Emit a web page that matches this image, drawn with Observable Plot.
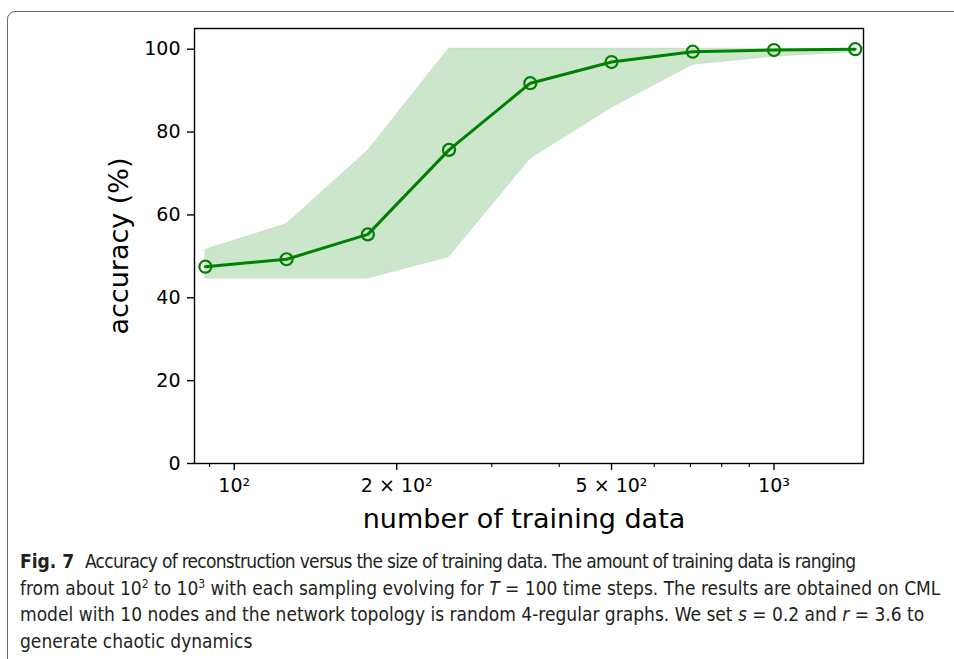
<!DOCTYPE html>
<html>
<head>
<meta charset="utf-8">
<script src="https://cdn.jsdelivr.net/npm/d3@7"></script>
<script src="https://cdn.jsdelivr.net/npm/@observablehq/plot@0.6"></script>
<style>
  html, body { margin: 0; padding: 0; background: white; }
  body { width: 954px; height: 659px; overflow: hidden; position: relative; }
  #frame { position: absolute; left: 7px; top: 11px; width: 1000px; height: 700px;
           border: 1.5px solid #6b6b6b; border-radius: 8px; pointer-events: none; z-index: 3; }
  #chart { position: absolute; left: 0; top: 0; }
  #cap { position: absolute; left: 20px; top: 548px; white-space: nowrap;
         font-family: "Liberation Sans Narrow", "DejaVu Sans Condensed", "Open Sans", sans-serif;
         font-size: 19px; line-height: 26.5px; color: #231f20; }
  #cap sup { font-size: 12px; line-height: 0; vertical-align: 7px; }
  #cap .l1 { letter-spacing: -0.72px; }
</style>
</head>
<body>
<div id="frame"></div>
<div id="chart"></div>
<div id="cap"><b>Fig. 7</b>&nbsp; <span class="l1">Accuracy of reconstruction versus the size of training data. The amount of training data is ranging</span><br>from about 10<sup>2</sup> to 10<sup>3</sup> with each sampling evolving for <i>T</i> = 100 time steps. The results are obtained on CML<br>model with 10 nodes and the network topology is random 4-regular graphs. We set <i>s</i> = 0.2 and <i>r</i> = 3.6 to<br>generate chaotic dynamics</div>
<script>
// ---- data ----
const trainingSize = [88.4, 125, 176.8, 250, 353.6, 500, 707.1, 1000, 1414.2];
const accuracy     = [47.5, 49.3, 55.3, 75.7, 91.8, 96.9, 99.4, 99.8, 100.0];
const upperBound   = [51.6, 57.8, 75.5, 100.2, 100.2, 100.2, 100.2, 100.1, 100.1];
const lowerBound   = [44.6, 44.6, 44.6, 49.8, 73.5, 85.8, 96.2, 98.2, 99.2];
const yTickValues  = [0, 20, 40, 60, 80, 100];
const xTickValues  = [100, 200, 500, 1000];
const xTickLabels  = ["10²", "2 × 10²", "5 × 10²", "10³"];
const xMinorTicks  = [90, 300, 400, 600, 700, 800, 900];
const xLabel = "number of training data";
const yLabel = "accuracy (%)";

const rows = trainingSize.map((x, i) => ({x, acc: accuracy[i], lo: lowerBound[i], hi: upperBound[i]}));

const chart = Plot.plot({
  width: 954,
  height: 545,
  marginLeft: 194,
  marginRight: 91,
  marginTop: 28,
  marginBottom: 82,
  style: {fontFamily: "DejaVu Sans", fontSize: "19px", color: "black", background: "transparent"},
  x: {type: "log", domain: [84.4, 1465], axis: null},
  y: {domain: [0, 105], axis: null},
  marks: [
    Plot.areaY(rows, {x: "x", y1: "lo", y2: "hi", fill: "green", fillOpacity: 0.2, stroke: "green", strokeOpacity: 0.08, strokeWidth: 1}),
    Plot.line(rows, {x: "x", y: "acc", stroke: "green", strokeWidth: 3}),
    Plot.dot(rows, {x: "x", y: "acc", r: 6, stroke: "green", strokeWidth: 2.2, fill: "none"}),
    Plot.frame({stroke: "black", strokeWidth: 1.4}),
    Plot.axisY(yTickValues, {tickSize: 7, tickPadding: 7, fontSize: 19, strokeWidth: 1.4, label: null}),
    Plot.axisX(xTickValues, {tickSize: 7, tickPadding: 8, fontSize: 19, strokeWidth: 1.4, label: null,
      tickFormat: d => xTickLabels[xTickValues.indexOf(d)]}),
    Plot.axisX(xMinorTicks, {tickSize: 4, strokeWidth: 1.1, label: null, tickFormat: () => ""}),
    Plot.text([yLabel], {frameAnchor: "left", dx: -67, rotate: -90, lineAnchor: "bottom", textAnchor: "middle", fontSize: 27, fill: "black"}),
    Plot.text([xLabel], {frameAnchor: "bottom", dx: -5, dy: 64.5, lineAnchor: "bottom", textAnchor: "middle", fontSize: 27, fill: "black"})
  ]
});
document.getElementById("chart").appendChild(chart);
</script>
</body>
</html>
